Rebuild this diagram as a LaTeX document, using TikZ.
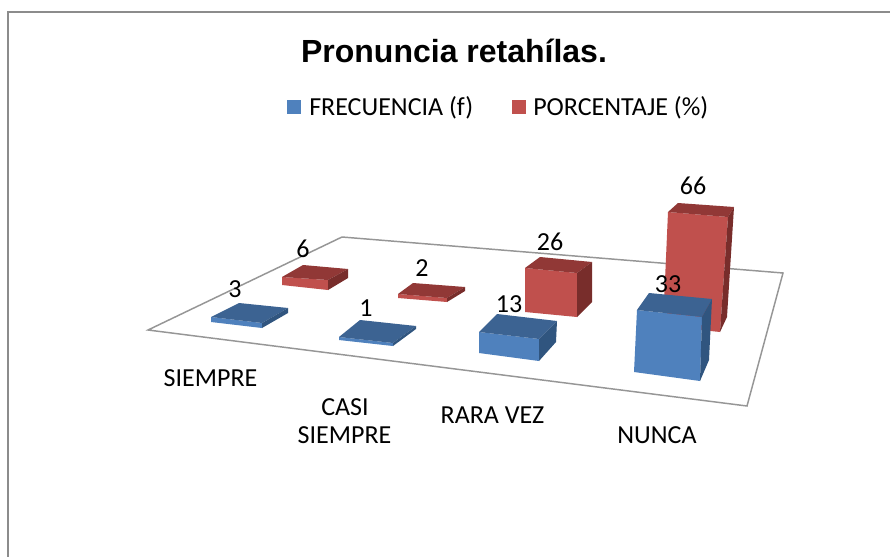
\documentclass[tikz,border=0pt]{standalone}
\usepackage{fontspec}
\setmainfont{Carlito}
\newfontfamily\titlefont{Liberation Sans}
\definecolor{blueF}{HTML}{4F81BD}
\definecolor{blueT}{HTML}{3C6392}
\definecolor{blueS}{HTML}{30557F}
\definecolor{redF}{HTML}{C0504D}
\definecolor{redT}{HTML}{913836}
\definecolor{redS}{HTML}{782D2B}
\definecolor{frameC}{HTML}{8C8C8C}
\definecolor{floorC}{HTML}{969696}
\tikzset{
  lbl/.style={font=\fontsize{19.5}{23}\selectfont, anchor=base, inner sep=0pt},
  framecol/.style={draw=frameC, line width=1.5pt},
  floorline/.style={draw=floorC, line width=1.1pt, line join=miter},
  bF/.style={fill=blueF}, bT/.style={fill=blueT}, bS/.style={fill=blueS},
  rF/.style={fill=redF}, rT/.style={fill=redT}, rS/.style={fill=redS},
}
\begin{document}
\begin{tikzpicture}[x=0.75pt,y=-0.75pt]
\useasboundingbox (0,0) rectangle (890,557);
\fill[white] (0,0) rectangle (890,557);
\draw[framecol] (8,557) -- (8,12) -- (890,12);
% floor
\filldraw[floorline, fill=white] (148,330) -- (342,237) -- (783,273) -- (747,406) -- cycle;
% red bars (back row)
% SIEMPRE 6
\fill[rF] (282,277) -- (328,280) -- (328,290) -- (282,285) -- cycle;
\fill[rT] (282,277) -- (303,265) -- (348,269) -- (328,280) -- cycle;
\fill[rS] (328,280) -- (348,269) -- (348,278) -- (328,290) -- cycle;
% CASI SIEMPRE 2
\fill[rF] (398,294) -- (447,298) -- (447,302) -- (398,298) -- cycle;
\fill[rT] (398,294) -- (413,283) -- (465,287) -- (447,298) -- cycle;
\fill[rS] (447,298) -- (465,287) -- (465,291) -- (447,302) -- cycle;
% RARA VEZ 26
\fill[rF] (525,268) -- (577,273) -- (577,317) -- (525,312) -- cycle;
\fill[rT] (525,268) -- (540,257) -- (592,262) -- (577,273) -- cycle;
\fill[rS] (577,273) -- (592,262) -- (592,302) -- (577,317) -- cycle;
% NUNCA 66
\fill[rF] (668,212) -- (728,217) -- (720,332) -- (663,326) -- cycle;
\fill[rT] (668,212) -- (678,203) -- (734,207) -- (728,217) -- cycle;
\fill[rS] (728,217) -- (734,207) -- (727,317) -- (720,332) -- cycle;
% blue bars (front row)
% SIEMPRE 3
\fill[bF] (211,317) -- (262,323) -- (262,328) -- (211,322) -- cycle;
\fill[bT] (211,317) -- (239,303) -- (288,308) -- (262,323) -- cycle;
\fill[bS] (262,323) -- (288,308) -- (288,313) -- (262,328) -- cycle;
% CASI SIEMPRE 1
\fill[bF] (339,337) -- (393,343) -- (393,346) -- (339,340) -- cycle;
\fill[bT] (339,337) -- (360,320) -- (416,326) -- (393,343) -- cycle;
\fill[bS] (393,343) -- (416,326) -- (416,329) -- (393,346) -- cycle;
% RARA VEZ 13
\fill[bF] (479,332) -- (539,339) -- (539,361) -- (479,353) -- cycle;
\fill[bT] (479,332) -- (497,314) -- (557,321) -- (539,339) -- cycle;
\fill[bS] (539,339) -- (557,321) -- (556,342) -- (539,361) -- cycle;
% NUNCA 33
\fill[bF] (637,310) -- (702,317) -- (700,381) -- (634,372) -- cycle;
\fill[bT] (637,310) -- (649,293) -- (712,299) -- (702,317) -- cycle;
\fill[bS] (702,317) -- (712,299) -- (709,360) -- (700,381) -- cycle;
% title
\node[anchor=base, inner sep=0pt, font=\titlefont\bfseries\fontsize{24}{28}\selectfont] (title) at (454,62) {Pronuncia retahílas.};
% legend
\fill[blueF] (287,100) rectangle (301,114);
\node[lbl, anchor=base west] (legf) at (309,115) {FRECUENCIA (f)};
\fill[redF] (512,100) rectangle (526,114);
\node[lbl, anchor=base west] (legp) at (533,115) {PORCENTAJE (\%)};
% data labels
\node[lbl] (v3) at (235,297) {3};
\node[lbl] (v6) at (303,257) {6};
\node[lbl] (v1) at (366,316) {1};
\node[lbl] (v2) at (422,276) {2};
\node[lbl] (v13) at (509,312) {13};
\node[lbl] (v26) at (550,250) {26};
\node[lbl] (v33) at (668,292) {33};
\node[lbl] (v66) at (693,194) {66};
% category labels
\node[lbl] (c1) at (210.5,386) {SIEMPRE};
\node[lbl] (c2a) at (345,415) {CASI};
\node[lbl] (c2b) at (344.5,443) {SIEMPRE};
\node[lbl] (c3) at (492.5,423) {RARA VEZ};
\node[lbl] (c4) at (657,443) {NUNCA};
\end{tikzpicture}
\end{document}
